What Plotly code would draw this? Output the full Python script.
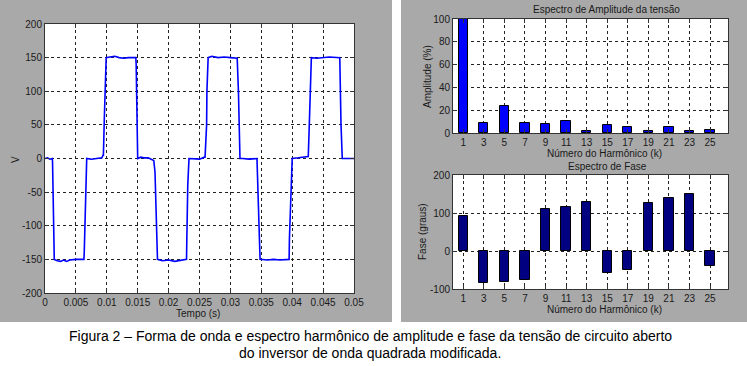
import plotly.graph_objects as go

# ---------------- data ----------------
# Waveform (time in s, voltage in V)
t = [0.0, 0.0004, 0.0008, 0.00119, 0.00122, 0.0013, 0.00138, 0.0015,
     0.0020, 0.0025, 0.0030, 0.0035, 0.0040, 0.0050, 0.0062,
     0.0063, 0.00635, 0.0065, 0.0066, 0.00675,
     0.0075, 0.0085, 0.0092, 0.0094,
     0.00945, 0.0096, 0.0097, 0.0099,
     0.0105, 0.0113, 0.0120, 0.0127, 0.0135, 0.0147,
     0.01475, 0.0149, 0.0150,
     0.0155, 0.0160, 0.0167, 0.0175, 0.0176,
     0.0178, 0.0180, 0.0182,
     0.0190, 0.0200, 0.0210, 0.0220, 0.0229,
     0.02295, 0.0231, 0.0233,
     0.0240, 0.0250, 0.0258, 0.0259,
     0.02615, 0.0262, 0.0264,
     0.0270, 0.0280, 0.0290, 0.0300, 0.0311,
     0.0313, 0.0314, 0.03155,
     0.0320, 0.0330, 0.0343,
     0.0344, 0.0346, 0.0348,
     0.0360, 0.0370, 0.0380, 0.0395,
     0.03955, 0.0397, 0.0400,
     0.0410, 0.0425, 0.0426,
     0.0428, 0.0429, 0.0431,
     0.0440, 0.0450, 0.0460, 0.0477,
     0.04775, 0.0479, 0.0481,
     0.0490, 0.0495, 0.0500]
v = [0, 1, -1, 0, -5, -70, -100, -150,
     -152, -153, -151, -153, -151, -150, -150,
     -150, -140, -80, -30, 0,
     -1, 0, 1, 5,
     5, 60, 100, 150,
     151, 152, 150, 149, 150, 150,
     140, 80, 0,
     2, 1, 1, -3, -3,
     -20, -70, -150,
     -152, -151, -153, -151, -150,
     -120, -40, 0,
     0, -1, 2, 2,
     50, 100, 150,
     152, 150, 151, 150, 149,
     100, 40, 0,
     0, -1, 0,
     -30, -100, -150,
     -151, -150, -151, -150,
     -120, -70, 0,
     1, 2, 3,
     60, 100, 150,
     149, 150, 151, 150,
     100, 50, 0,
     0, -1, 0]

t_ticks = [0, 0.005, 0.01, 0.015, 0.02, 0.025, 0.03, 0.035, 0.04, 0.045, 0.05]
t_ticktext = ["0", "0.005", "0.01", "0.015", "0.02", "0.025", "0.03", "0.035", "0.04", "0.045", "0.05"]
v_ticks = [-200, -150, -100, -50, 0, 50, 100, 150, 200]
v_ticktext = ["-200", "-150", "-100", "-50", "0", "50", "100", "150", "200"]

harmonics = [1, 3, 5, 7, 9, 11, 13, 15, 17, 19, 21, 23, 25]
amplitude = [100, 8.5, 23.5, 8.5, 8.2, 10.6, 1.5, 6.7, 5.3, 2.0, 5.0, 2.0, 2.3]
phase = [92, -85, -81, -75, 110, 115, 128, -59, -51, 126, 139, 151, -40]

amp_ticks = [0, 20, 40, 60, 80, 100]
amp_ticktext = ["0", "20", "40", "60", "80", "100"]
phase_ticks = [-100, 0, 100, 200]
phase_ticktext = ["-100", "0", "100", "200"]

# ---------------- layout helpers ----------------
W, H = 747, 366
def px(x):
    return x / W
def py(y):
    return 1 - y / H

GRAY = "#a9a9a9"
TXT = "#1a1a1a"
FONT = "Liberation Sans, Arial, sans-serif"

fig = go.Figure()

fig.add_trace(go.Scatter(x=t, y=v, mode="lines",
                         line=dict(color="#0000ff", width=1.6),
                         xaxis="x", yaxis="y", showlegend=False))
fig.add_trace(go.Bar(x=harmonics, y=amplitude, width=0.9,
                     marker=dict(color="#0000ff", line=dict(color="#000000", width=1)),
                     xaxis="x2", yaxis="y2", showlegend=False))
fig.add_trace(go.Bar(x=harmonics, y=phase, width=0.9,
                     marker=dict(color="#000080", line=dict(color="#000000", width=1)),
                     xaxis="x3", yaxis="y3", showlegend=False))

common = dict(showline=True, linecolor="#333333", linewidth=1, mirror="ticks",
              ticks="inside", ticklen=4, tickcolor="#333333",
              showgrid=True, gridcolor="#222222", griddash="3px,3px", gridwidth=1,
              zeroline=False, tickfont=dict(family=FONT, size=10, color=TXT),
              fixedrange=True, automargin=False)

L = dict(x0=45, x1=354, y0=24, y1=293)
R1 = dict(x0=453, x1=728, y0=19, y1=133)
R2 = dict(x0=453, x1=728, y0=175, y1=289)

fig.update_layout(
    width=W, height=H,
    margin=dict(l=0, r=0, t=0, b=0, pad=0),
    paper_bgcolor="white", plot_bgcolor="white",
    bargap=0,
    xaxis=dict(domain=[px(L["x0"]), px(L["x1"])], range=[0, 0.05],
               tickvals=t_ticks, ticktext=t_ticktext, anchor="y", **common),
    yaxis=dict(domain=[py(L["y1"]), py(L["y0"])], range=[-200, 200],
               tickvals=v_ticks, ticktext=v_ticktext, anchor="x", **common),
    xaxis2=dict(domain=[px(R1["x0"]), px(R1["x1"])], range=[0, 26.75],
                tickvals=harmonics, anchor="y2", **common),
    yaxis2=dict(domain=[py(R1["y1"]), py(R1["y0"])], range=[0, 100],
                tickvals=amp_ticks, ticktext=amp_ticktext, anchor="x2", **common),
    xaxis3=dict(domain=[px(R2["x0"]), px(R2["x1"])], range=[0, 26.75],
                tickvals=harmonics, anchor="y3", **common),
    yaxis3=dict(domain=[py(R2["y1"]), py(R2["y0"])], range=[-100, 200],
                tickvals=phase_ticks, ticktext=phase_ticktext, anchor="x3", **common),
)

shapes = [
    dict(type="rect", xref="paper", yref="paper", x0=px(0), x1=px(392), y0=py(322), y1=py(0),
         fillcolor=GRAY, line=dict(width=0), layer="below"),
    dict(type="rect", xref="paper", yref="paper", x0=px(401), x1=px(747), y0=py(322), y1=py(0),
         fillcolor=GRAY, line=dict(width=0), layer="below"),
]
for b in (L, R1, R2):
    shapes.append(dict(type="rect", xref="paper", yref="paper",
                       x0=px(b["x0"]), x1=px(b["x1"]), y0=py(b["y1"]), y1=py(b["y0"]),
                       fillcolor="white", line=dict(width=0), layer="below"))
fig.update_layout(shapes=shapes)

def ann(text, x, y, size=10, angle=0, color=TXT):
    return dict(text=text, x=px(x), y=py(y), xref="paper", yref="paper",
                showarrow=False, textangle=angle, xanchor="center", yanchor="middle",
                font=dict(family=FONT, size=size, color=color))

fig.update_layout(annotations=[
    ann("V", 15, 160, angle=-90),
    ann("Tempo (s)", 198, 313),
    ann("Espectro de Amplitude da tensão", 606, 9),
    ann("Amplitude (%)", 427, 77, angle=-90),
    ann("Número do Harmônico (k)", 604, 153),
    ann("Espectro de Fase", 607, 166),
    ann("Fase (graus)", 422, 232, angle=-90),
    ann("Número do Harmônico (k)", 604, 309),
    ann("Figura 2 – Forma de onda e espectro harmônico de amplitude e fase da tensão de circuito aberto",
        370, 336, size=14, color="#000000"),
    ann("do inversor de onda quadrada modificada.", 370, 353, size=14, color="#000000"),
])

fig.write_html("out.html",
               config={"displayModeBar": False},
               post_script="document.body.style.margin='0';document.body.style.padding='0';")
